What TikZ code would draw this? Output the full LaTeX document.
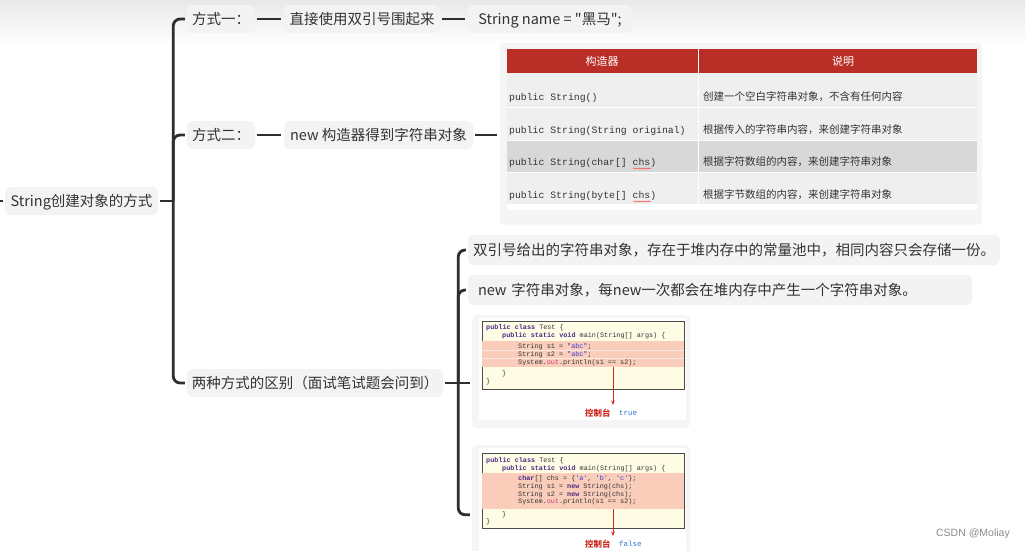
\documentclass[tikz,border=0pt]{standalone}
\usepackage{fontspec}
\setmainfont[Ligatures=TeXOff]{Noto Sans CJK SC}
\newfontfamily\mono[Ligatures=TeXOff]{Liberation Mono}
\newfontfamily\wmfont{Liberation Sans}
\usetikzlibrary{calc,arrows.meta,decorations.pathmorphing}
\definecolor{txt}{HTML}{333333}
\definecolor{linec}{HTML}{2E2E2E}
\definecolor{boxf}{HTML}{F3F3F3}
\definecolor{hdr}{HTML}{B92F27}
\definecolor{rowa}{HTML}{EFEFEF}
\definecolor{rowb}{HTML}{D8D8D8}
\definecolor{framec}{HTML}{F5F5F5}
\definecolor{cream}{HTML}{FFFCE6}
\definecolor{pinkc}{HTML}{F9CDB9}
\definecolor{kwc}{HTML}{4A2A86}
\definecolor{stc}{HTML}{3A3AD0}
\definecolor{fldc}{HTML}{D0407A}
\definecolor{redc}{HTML}{D02A20}
\definecolor{bluec}{HTML}{2A7AD0}
\newcommand\jkw[1]{\textcolor{kwc}{\bfseries #1}}
\newcommand\jst[1]{\textcolor{stc}{#1}}
\newcommand\jfld[1]{\textcolor{fldc}{#1}}
\begin{document}
\begin{tikzpicture}[x=1pt,y=-1pt,
  topic/.style={fill=boxf, rounded corners=6pt, text=txt, font=\fontsize{14.5}{17}\selectfont, inner sep=0pt, minimum height=28pt, text height=12pt, text depth=2pt},
  conn/.style={draw=linec, line width=2.8pt, rounded corners=7pt},
  cell/.style={anchor=west, text=txt, inner sep=0pt, text height=7.5pt, text depth=2pt},
  monocell/.style={cell, font=\mono\fontsize{9.8}{11}\selectfont},
  cjkcell/.style={cell, font=\fontsize{10.5}{12}\selectfont},
  codeln/.style={anchor=west, inner sep=0pt, text=black!80, font=\mono\fontsize{6.8}{7}\selectfont, text height=5pt, text depth=1.5pt},
  outerbox/.style={fill=framec, rounded corners=5pt, inner sep=0pt},
  codebox/.style={draw=black!70, fill=cream, line width=0.8pt, inner sep=0pt},
  redarrow/.style={draw=redc, line width=0.9pt, -{Stealth[length=4.5pt,width=3.5pt]}},
  consolelbl/.style={anchor=west, text=redc, inner sep=0pt, font=\bfseries\fontsize{8.5}{10}\selectfont},
  resultlbl/.style={anchor=west, text=bluec, inner sep=0pt, font=\mono\fontsize{7.5}{9}\selectfont},
  squiggle/.style={draw=red!75, line width=0.5pt, decorate, decoration={snake, amplitude=0.6pt, segment length=3pt}}
]
\useasboundingbox (0,0) rectangle (1025,550);
\clip (0,0) rectangle (1025,550);
\fill[white] (0,0) rectangle (1025,550);
\shade[top color=black!9, bottom color=white] (0,0) rectangle (1025,45);

% ---------- main nodes ----------
\node[topic, minimum width=153pt] (r) at (81.5,201) {String创建对象的方式};
\node[topic, minimum width=68pt] (m1) at (221,19) {方式一：};
\node[topic, minimum width=156pt] (a1) at (362,19) {直接使用双引号围起来};
\node[topic, minimum width=164pt] (a2) at (550,19) {String name = "黑马";};
\node[topic, minimum width=68pt] (m2) at (221,135) {方式二：};
\node[topic, minimum width=189pt] (b1) at (378.5,135) {new 构造器得到字符串对象};
\node[topic, minimum width=256pt] (m3) at (315,383) {两种方式的区别（面试笔试题会问到）};
\node[topic, minimum width=532pt, minimum height=30pt] (c1) at (734,250) {双引号给出的字符串对象，存在于堆内存中的常量池中，相同内容只会存储一份。};
\node[topic, minimum height=30pt, inner xsep=10pt, text width=484pt, align=left] (c2) at (720,290) {new 字符串对象，每new一次都会在堆内存中产生一个字符串对象。};

% ---------- table ----------
\node[outerbox, minimum width=482pt, minimum height=182pt] (tbl) at (741,134) {};
\fill[hdr] (507,49) rectangle (977,73);
\fill[rowa] (507,73) rectangle (977,140);
\fill[rowb] (507,140) rectangle (977,172);
\fill[rowa] (507,172) rectangle (977,204);
\fill[white] (507,204) rectangle (977,210);
\draw[white, line width=0.8pt] (507,107) -- (977,107);
\draw[white, line width=0.8pt] (507,140) -- (977,140);
\draw[white, line width=0.8pt] (507,172) -- (977,172);
\draw[white, line width=1pt] (698,49) -- (698,204);
\node[text=white, inner sep=0pt, font=\fontsize{11}{13}\selectfont] (h1) at (602,61) {构造器};
\node[text=white, inner sep=0pt, font=\fontsize{11}{13}\selectfont] (h2) at (843,61) {说明};
\node[monocell] (p1) at (509,98) {public String()};
\node[monocell] (p2) at (509,131) {public String(String original)};
\node[monocell] (p3) at (509,163) {public String(char[] chs)};
\node[monocell] (p4) at (509,196) {public String(byte[] chs)};
\node[cjkcell] (d1) at (703,98) {创建一个空白字符串对象，不含有任何内容};
\node[cjkcell] (d2) at (703,131) {根据传入的字符串内容，来创建字符串对象};
\node[cjkcell] (d3) at (703,163) {根据字符数组的内容，来创建字符串对象};
\node[cjkcell] (d4) at (703,196) {根据字节数组的内容，来创建字符串对象};
\draw[squiggle] (633,168.5) -- (651,168.5);
\draw[squiggle] (633,201.5) -- (651,201.5);

% ---------- code example 1 ----------
\node[outerbox, minimum width=218pt, minimum height=113pt] (cb1) at (581,371.5) {};
\fill[white] (479,318) rectangle (686,420);
\node[codebox, minimum width=202pt, minimum height=68pt] (code1) at (583,355.5) {};
\fill[pinkc] (482.4,341) rectangle (683.6,367);
\draw[white!60!pinkc, line width=0.3pt] (482.4,350.5) -- (683.6,350.5);
\draw[white!60!pinkc, line width=0.3pt] (482.4,358.5) -- (683.6,358.5);
\node[codeln] (l11) at (486,328) {\jkw{public class} Test \{};
\node[codeln] (l12) at (502,336) {\jkw{public static void} main(String[] args) \{};
\node[codeln] (l13) at (518,346.5) {String s1 = \jst{"abc"};};
\node[codeln] (l14) at (518,354.5) {String s2 = \jst{"abc"};};
\node[codeln] (l15) at (518,362.5) {System.\jfld{out}.println(s1 == s2);};
\node[codeln] (l16) at (502,374) {\}};
\node[codeln] (l17) at (486,382) {\}};
\coordinate (ar1s) at (613,367);
\coordinate (ar1e) at (613,405);
\draw[redarrow] (ar1s) -- (ar1e);
\node[consolelbl] (k1) at (585,413) {控制台};
\node[resultlbl] (t1) at (619,413) {true};

% ---------- code example 2 ----------
\node[outerbox, minimum width=218pt, minimum height=115pt] (cb2) at (581,502.5) {};
\fill[white] (479,448) rectangle (686,560);
\node[codebox, minimum width=202pt, minimum height=75pt] (code2) at (583,491) {};
\fill[pinkc] (482.4,473) rectangle (683.6,509);
\node[codeln] (l21) at (486,461) {\jkw{public class} Test \{};
\node[codeln] (l22) at (502,468.5) {\jkw{public static void} main(String[] args) \{};
\node[codeln] (l23) at (518,479) {\jkw{char}[] chs = \{\jst{'a'}, \jst{'b'}, \jst{'c'}\};};
\node[codeln] (l24) at (518,487) {String s1 = \jkw{new} String(chs);};
\node[codeln] (l25) at (518,494.5) {String s2 = \jkw{new} String(chs);};
\node[codeln] (l26) at (518,502) {System.\jfld{out}.println(s1 == s2);};
\node[codeln] (l27) at (502,515) {\}};
\node[codeln] (l28) at (486,522) {\}};
\coordinate (ar2s) at (613,509);
\coordinate (ar2e) at (613,536);
\draw[redarrow] (ar2s) -- (ar2e);
\node[consolelbl] (k2) at (585,544) {控制台};
\node[resultlbl] (t2) at (619,544) {false};

% ---------- connectors ----------
\coordinate (j1) at ($(r.east)+(15,0)$);
\coordinate (j2) at ($(m3.east)+(15,0)$);
\coordinate (c4in) at ($(cb2.north west)+(0,70)$);
\draw[conn, shorten <=2pt] (r.east) -- (j1);
\draw[conn, shorten <=2pt] (r.west) -- ++(-12,0);
\draw[conn, shorten >=2pt] (j1) |- (m1.west);
\draw[conn, shorten >=2pt] (j1) |- (m2.west);
\draw[conn, shorten >=2pt] (j1) |- (m3.west);
\draw[conn, shorten <=2pt, shorten >=3pt] (m1.east) -- (a1.west);
\draw[conn, shorten <=2pt, shorten >=3pt] (a1.east) -- (a2.west);
\draw[conn, shorten <=2pt, shorten >=3pt] (m2.east) -- (b1.west);
\draw[conn, shorten <=2pt, shorten >=3pt] (b1.east) -- (b1.east -| tbl.west);
\draw[conn, shorten <=2pt] (m3.east) -- (j2);
\draw[conn, shorten >=2pt] (j2) |- (c1.west);
\draw[conn, shorten >=2pt] (j2) |- (c2.west);
\draw[conn, shorten >=2pt] (j2) -- (j2 -| cb1.west);
\draw[conn, shorten >=2pt] (j2) |- (c4in);

% ---------- watermark ----------
\node[anchor=east, text=black!45, inner sep=0pt, font=\wmfont\fontsize{10.5}{12}\selectfont] (wm) at (1010,534) {CSDN @Moliay};
\end{tikzpicture}
\end{document}
